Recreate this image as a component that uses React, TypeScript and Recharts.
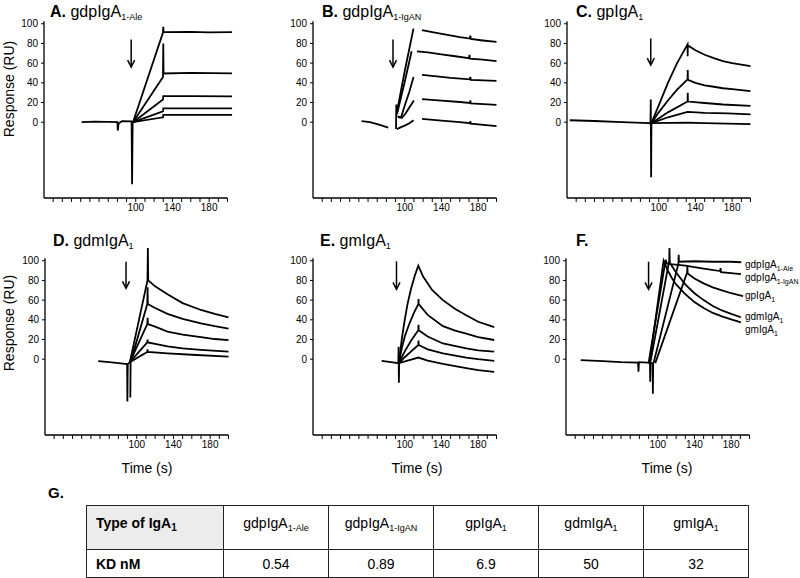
import { LineChart, Line, XAxis, YAxis, ReferenceLine } from 'recharts'

type Pt = [number, number]

const timeTicks = [10, 20, 30, 40, 50, 60, 70, 80, 90, 100, 110, 120, 130, 140, 150, 160, 170, 180, 190, 200]
const timeLabels = [100, 140, 180]
const respTicks = [0, 20, 40, 60, 80, 100]

// A. gdpIgA1-Ale
const aBase: Pt[] = [[41, 0], [55, 0.5], [70, 0.3], [80, 0], [80.4, -8.5], [81.4, -1], [85, 1], [95.5, 0.8], [96, -63], [96.6, 0]]
const aC1: Pt[] = [[97, 0], [129.7, 91], [130, 97], [130.3, 91.5], [160, 91.8], [180, 91.2], [205, 91.5]]
const aC2: Pt[] = [[97, 0], [129.7, 46], [130, 80], [130.3, 49.5], [160, 50], [205, 49.5]]
const aC3: Pt[] = [[97, 0], [129.7, 23], [130, 26.5], [160, 26.5], [205, 26.3]]
const aC4: Pt[] = [[97, 0], [129.7, 11], [130, 14], [205, 14]]
const aC5: Pt[] = [[97, 0], [129.7, 5], [130, 7.5], [205, 7.5]]

// B. gdpIgA1-IgAN
const bBase: Pt[] = [[53, 1], [62, 0], [72, -2.5], [82, -5.5]]
const bA1: Pt[] = [[90.5, -7], [90.8, 18], [91.2, 9], [100, 52], [109.5, 95]]
const bA2: Pt[] = [[91.5, 8], [100, 41], [107.5, 72]]
const bA3: Pt[] = [[92, 6], [96, 5], [100, 17], [105, 31], [109.6, 46]]
const bA4: Pt[] = [[93, 5], [97, 4.5], [101, 9], [105, 15], [110, 22]]
const bA5: Pt[] = [[91.5, -7], [96, -5], [100, -3.5], [105, -1], [109.6, 2]]
const bD1: Pt[] = [[118.8, 93.5], [130, 91.5], [145, 89], [160, 86.5], [171, 85], [171.5, 88], [172, 84.5], [185, 83], [200, 81.5]]
const bD2: Pt[] = [[113.3, 72], [125, 71], [140, 69], [155, 67], [170, 65], [170.5, 68.5], [171, 64.5], [185, 63.5], [200, 62]]
const bD3: Pt[] = [[118.8, 48], [135, 46.5], [150, 45], [171, 43.5], [171.5, 46], [172, 43], [200, 42]]
const bD4: Pt[] = [[118.8, 23.5], [140, 22], [160, 20.5], [171, 19.5], [171.5, 22], [172, 19], [200, 17.5]]
const bD5: Pt[] = [[118.8, 3.3], [140, 1.5], [160, 0], [171, -1], [171.5, 1], [172, -1.5], [200, -4]]

// C. gpIgA1
const cBase: Pt[] = [[3, 2], [30, 1.2], [60, 0], [89.5, -1], [91, -1.5], [91.3, 23], [91.7, -56], [92, -1]]
const cC1: Pt[] = [[92, -1], [100, 17], [110, 40], [120, 60], [131.4, 79], [131.5, 67], [131.7, 78], [140, 73], [150, 68.5], [160, 65], [170, 62], [180, 60], [190, 58.5], [200, 57]]
const cC2: Pt[] = [[92, -1], [100, 10], [110, 22], [120, 33], [131.4, 43.5], [131.6, 53], [131.8, 43], [140, 40], [150, 37.5], [160, 36], [170, 34.5], [180, 33.5], [200, 31.5]]
const cC3: Pt[] = [[92, -1], [110, 10], [131.4, 21], [131.6, 30], [131.8, 21], [150, 19.5], [170, 18], [200, 16.5]]
const cC4: Pt[] = [[92, -1], [110, 5], [131.4, 10.5], [150, 9.5], [175, 9], [200, 8]]
const cC5: Pt[] = [[92, -1], [131.4, -0.5], [150, -1], [200, -2]]

// D. gdmIgA1
const dBase: Pt[] = [[58, -2], [70, -3], [80, -4], [89.5, -5], [89.8, -43], [90.2, -5], [92.5, -3]]
const dC1: Pt[] = [[92.5, -3], [111.7, 80], [112.1, 113], [112.5, 80], [120, 74], [133.5, 66], [150, 57], [170, 50], [185, 46], [200, 42.5]]
const dC2: Pt[] = [[93, -39], [93.3, -3], [111.5, 56], [111.8, 73], [112.1, 56], [120, 52], [133.5, 46], [150, 41], [170, 36.5], [185, 33.5], [200, 31]]
const dC3: Pt[] = [[92.5, -3], [111.5, 35.6], [111.8, 42], [112.1, 35.6], [120, 33], [133.5, 28], [150, 25], [170, 22.5], [185, 20.5], [200, 19.3]]
const dC4: Pt[] = [[92.5, -3], [111.5, 17], [111.8, 20], [112, 17], [120, 15.5], [133.5, 13], [150, 11], [170, 9.5], [200, 7.7]]
const dC5: Pt[] = [[92.5, -3], [111.5, 7.4], [111.8, 10], [112, 7.4], [133.5, 6], [160, 4.5], [200, 2.7]]

// E. gmIgA1
const eBase: Pt[] = [[74.8, -1.7], [85, -3], [93, -4], [93.3, 12.7], [93.6, -24], [93.9, -4]]
const eC1: Pt[] = [[93.6, -4], [97, 22], [100, 40], [103, 56], [107, 72], [111, 85], [114.8, 95], [120, 84], [130, 70], [141.6, 60], [155, 51], [167, 44.6], [180, 38], [197.5, 32.6]]
const eC2: Pt[] = [[93.6, -4], [97, 12], [100, 23], [105, 36], [110, 47], [114.8, 56], [115, 61], [115.2, 56], [125, 45], [141.6, 33.5], [155, 29], [167, 26], [180, 22.5], [197.5, 19.5]]
const eC3: Pt[] = [[93.6, -4], [100, 8], [107, 19], [114.8, 29.5], [115, 35], [115.2, 29.5], [125, 23], [141.6, 16], [167, 11], [180, 9], [197.5, 7.6]]
const eC4: Pt[] = [[93.6, -4], [100, 2], [107, 8], [114.8, 14.4], [115, 19], [115.2, 14.4], [125, 10], [141.6, 6], [167, 1.6], [180, 0], [197.5, -1.7]]
const eC5: Pt[] = [[93.6, -4], [105, -1], [114.8, 1.7], [125, -1.5], [141.6, -4.7], [167, -9], [180, -11], [197.5, -12.8]]

// F. overlay
const fBase: Pt[] = [[16, -1], [40, -2], [60, -3], [78.5, -3.5], [79, -12.7], [79.5, -3], [89, -3.5], [91.5, -4], [91.8, -23], [92.1, -4], [94.4, -4], [94.7, -35], [95, -4]]
const fAle: Pt[] = [[95.4, -4], [122.5, 97], [122.8, 106], [123.1, 99], [140, 99.5], [160, 99], [180, 99], [191, 98.5]]
const fIgAN: Pt[] = [[90, -4], [108.6, 101], [110, 97], [114, 96.5], [130, 95], [150, 92], [168, 89.5], [168.5, 92.5], [169, 88.5], [190.7, 86.5]]
const fGp: Pt[] = [[97.3, -4], [132, 88], [132.3, 94], [132.6, 87], [140, 82], [150, 77], [160, 73], [170, 70], [180, 67], [193, 64]]
const fGdm: Pt[] = [[91.8, -4], [112.5, 100], [112.8, 113], [113.1, 98], [120, 88], [130, 76], [140, 67], [150, 60], [160, 54], [170, 49.5], [180, 46], [190.7, 42.6]]
const fGm: Pt[] = [[91, -4], [106.4, 100], [110, 92], [115, 83], [120, 76], [130, 66], [140, 58], [150, 52], [160, 47], [170, 43.5], [180, 40.5], [190.7, 37.5]]

const fLabels = [
  { name: 'gdpIgA', sub: '1-Ale', y: 259 },
  { name: 'gdpIgA', sub: '1-IgAN', y: 272 },
  { name: 'gpIgA', sub: '1', y: 290 },
  { name: 'gdmIgA', sub: '1', y: 311 },
  { name: 'gmIgA', sub: '1', y: 324 },
]

const tableTypes = [
  { name: 'gdpIgA', sub: '1-Ale' },
  { name: 'gdpIgA', sub: '1-IgAN' },
  { name: 'gpIgA', sub: '1' },
  { name: 'gdmIgA', sub: '1' },
  { name: 'gmIgA', sub: '1' },
]
const kdValues = ['0.54', '0.89', '6.9', '50', '32']

const FONT = '"Liberation Sans", Arial, Helvetica, sans-serif'
const tickStyle = { fontSize: 10, fill: '#000', fontFamily: FONT }

const Arrow = (p: any) => {
  const { x1, y1, x2, y2 } = p
  return (
    <g>
      <line x1={x1} y1={y1} x2={x2} y2={y2 - 1} stroke="#000" strokeWidth={1.5} />
      <path d={`M${x2 - 3.5},${y2 - 7} L${x2},${y2} L${x2 + 3.5},${y2 - 7}`} fill="none" stroke="#000" strokeWidth={1.5} />
    </g>
  )
}

function Sensorgram({ left, top, lines, arrow }: {
  left: number
  top: number
  lines: Pt[][]
  arrow: { t: number; from: number; to: number }
}) {
  return (
    <div style={{ position: 'absolute', left, top }}>
      <LineChart width={225} height={212} margin={{ top: 0, right: 4, bottom: 0, left: 0 }}>
        <XAxis
          type="number"
          dataKey="t"
          domain={[0, 206]}
          ticks={timeTicks}
          interval={0}
          allowDataOverflow
          axisLine={false}
          tickLine={{ stroke: '#000' }}
          tickSize={4}
          height={22}
          tick={tickStyle}
          tickFormatter={(v) => (timeLabels.includes(v) ? String(v) : '')}
        />
        <YAxis
          type="number"
          domain={[-77, 116]}
          ticks={respTicks}
          interval={0}
          allowDataOverflow
          axisLine={false}
          tickLine={{ stroke: '#000' }}
          tickSize={3}
          tickMargin={3}
          width={32}
          tick={tickStyle}
        />
        <ReferenceLine segment={[{ x: 0, y: -77 }, { x: 0, y: 102.5 }]} stroke="#000" strokeWidth={1.3} />
        <ReferenceLine segment={[{ x: 0, y: -77 }, { x: 200, y: -77 }]} stroke="#000" strokeWidth={1.3} />
        {lines.map((d, i) => (
          <Line
            key={i}
            data={d.map(([t, v]) => ({ t, v }))}
            dataKey="v"
            type="linear"
            stroke="#000"
            strokeWidth={1.8}
            dot={false}
            activeDot={false}
            isAnimationActive={false}
          />
        ))}
        <ReferenceLine segment={[{ x: arrow.t, y: arrow.from }, { x: arrow.t, y: arrow.to }]} shape={Arrow} />
      </LineChart>
    </div>
  )
}

const Title = ({ left, top, letter, name, sub }: { left: number; top: number; letter: string; name: string; sub: string }) => (
  <div style={{ position: 'absolute', left, top, fontSize: 16, lineHeight: '18px', whiteSpace: 'nowrap' }}>
    <b>{letter}</b> {name}
    <span style={{ fontSize: 9, verticalAlign: -3 }}>{sub}</span>
  </div>
)

const YLabel = ({ cy }: { cy: number }) => (
  <div style={{ position: 'absolute', left: 9 - 60, top: cy - 8, width: 120, height: 16, lineHeight: '16px', fontSize: 14, textAlign: 'center', transform: 'rotate(-90deg)' }}>
    Response (RU)
  </div>
)

const XLabel = ({ cx }: { cx: number }) => (
  <div style={{ position: 'absolute', left: cx - 40, top: 460, width: 80, lineHeight: '16px', fontSize: 14, textAlign: 'center' }}>
    Time (s)
  </div>
)

const border = '1.5px solid #222'

export default function App() {
  return (
    <div style={{ position: 'absolute', left: 0, top: 0, width: 800, height: 578, background: '#fff', fontFamily: FONT, color: '#000', overflow: 'hidden' }}>
      <Sensorgram left={12} top={8.3} lines={[aBase, aC1, aC2, aC3, aC4, aC5]} arrow={{ t: 95, from: 84, to: 56 }} />
      <Sensorgram left={281} top={8.3} lines={[bBase, bA1, bA2, bA3, bA4, bA5, bD1, bD2, bD3, bD4, bD5]} arrow={{ t: 87.2, from: 84, to: 56 }} />
      <Sensorgram left={534.5} top={8.3} lines={[cBase, cC1, cC2, cC3, cC4, cC5]} arrow={{ t: 91.3, from: 85, to: 58 }} />
      <Sensorgram left={12.5} top={245} lines={[dBase, dC1, dC2, dC3, dC4, dC5]} arrow={{ t: 88.3, from: 99, to: 72 }} />
      <Sensorgram left={281.3} top={245} lines={[eBase, eC1, eC2, eC3, eC4, eC5]} arrow={{ t: 91, from: 99.5, to: 71 }} />
      <Sensorgram left={534} top={245} lines={[fBase, fAle, fIgAN, fGp, fGdm, fGm]} arrow={{ t: 90, from: 99, to: 71 }} />

      <Title left={50} top={3} letter="A." name="gdpIgA" sub="1-Ale" />
      <Title left={322} top={3} letter="B." name="gdpIgA" sub="1-IgAN" />
      <Title left={576} top={3} letter="C." name="gpIgA" sub="1" />
      <Title left={53} top={232} letter="D." name="gdmIgA" sub="1" />
      <Title left={320} top={232} letter="E." name="gmIgA" sub="1" />
      <Title left={576} top={232} letter="F." name="" sub="" />

      <YLabel cy={88.5} />
      <YLabel cy={322.5} />
      <XLabel cx={147} />
      <XLabel cx={417} />
      <XLabel cx={667} />

      {fLabels.map((l, i) => (
        <div key={i} style={{ position: 'absolute', left: 745, top: l.y, fontSize: 10, lineHeight: '12px', whiteSpace: 'nowrap' }}>
          {l.name}
          <span style={{ fontSize: 7, verticalAlign: -3 }}>{l.sub}</span>
        </div>
      ))}

      <div style={{ position: 'absolute', left: 48, top: 484, fontSize: 15, lineHeight: '17px', fontWeight: 'bold' }}>G.</div>

      <table style={{ position: 'absolute', left: 86, top: 505, borderCollapse: 'collapse', tableLayout: 'fixed', fontSize: 14, border }}>
        <colgroup>
          <col style={{ width: 137 }} />
          {tableTypes.map((_, i) => <col key={i} style={{ width: 105 }} />)}
        </colgroup>
        <tbody>
          <tr style={{ height: 44 }}>
            <td style={{ border, background: '#ececec', fontWeight: 'bold', verticalAlign: 'top', padding: '9px 0 0 9px', lineHeight: '16px' }}>
              Type of IgA<span style={{ fontSize: 10, verticalAlign: -3 }}>1</span>
            </td>
            {tableTypes.map((c, i) => (
              <td key={i} style={{ border, textAlign: 'center', verticalAlign: 'top', padding: '9px 0 0 0', lineHeight: '16px' }}>
                {c.name}
                <span style={{ fontSize: 9, verticalAlign: -3 }}>{c.sub}</span>
              </td>
            ))}
          </tr>
          <tr style={{ height: 28 }}>
            <td style={{ border, fontWeight: 'bold', padding: '0 0 0 9px', lineHeight: '16px' }}>KD nM</td>
            {kdValues.map((k, i) => (
              <td key={i} style={{ border, textAlign: 'center', padding: 0, lineHeight: '16px' }}>{k}</td>
            ))}
          </tr>
        </tbody>
      </table>
    </div>
  )
}
